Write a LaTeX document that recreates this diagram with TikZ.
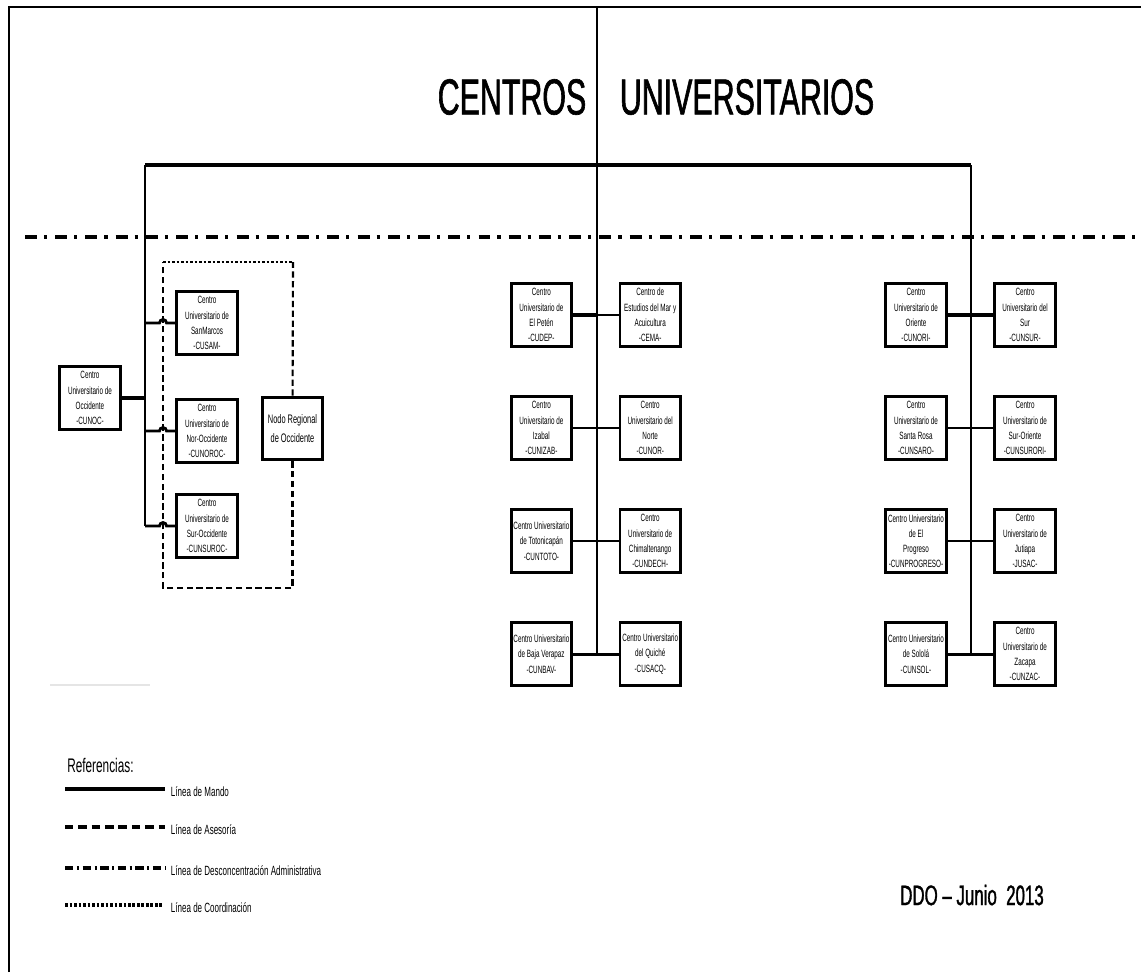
\documentclass[tikz,border=0pt]{standalone}
\usepackage{fontspec}
\setmainfont{Liberation Sans}[FakeStretch=0.6]
\newfontfamily\titlefont{Liberation Sans}[FakeStretch=0.6, FakeBold=1.2]
\usetikzlibrary{positioning}

\begin{document}
\begin{tikzpicture}[x=0.025cm, y=-0.025cm, node distance=1cm, thick]
        % Estilos de cajas y lineas
        \tikzstyle{centro} = [draw, rectangle, line width=2.1pt, minimum width=43pt, minimum height=44.5pt, inner sep=1pt, align=center, font=\fontsize{7.5}{10.8}\selectfont]
        \tikzstyle{nodo} = [centro, font=\fontsize{8.8}{13.5}\selectfont]
        \tikzstyle{mando} = [line width=2pt]
        \tikzstyle{mandoGrueso} = [line width=3.5pt]
        \tikzstyle{asesoria} = [line width=1.5pt, dash pattern=on 4.5pt off 2.5pt]
        \tikzstyle{desconcentracion} = [line width=2.6pt, dash pattern=on 8.5pt off 5pt on 2.2pt off 5.8pt]
        \tikzstyle{coordinacion} = [line width=2pt, dash pattern=on 2pt off 1.2pt]
        \tikzstyle{leyenda} = [anchor=west, inner sep=1pt, yshift=-2pt, font=\fontsize{9.5}{9.5}\selectfont]
        \useasboundingbox (0,0) rectangle (1141,972);
       % Marco y titulo
       \node at (9,972) [coordinate] (frameBL) {}; % Frame corner
       \node at (1141,7) [coordinate] (frameTR) {}; % Frame corner
       \node at (512,97) (tituloA) {\titlefont\fontsize{36}{36}\selectfont CENTROS}; % Title left
       \node at (747,97) (tituloB) {\titlefont\fontsize{36}{36}\selectfont UNIVERSITARIOS}; % Title right
       % Linea principal
       \node at (597,7) [coordinate] (topSpine) {}; % Top of middle spine
       \node at (145,165) [coordinate] (barLeft) {}; % Bar left end
       \node at (971,165) [coordinate] (barRight) {}; % Bar right end
       \node at (25,237) [coordinate] (deconLeft) {}; % Dash-dot line start
       \node at (1141,237) [coordinate] (deconRight) {}; % Dash-dot line end
       % Grupo occidente
       \node at (145,323) [coordinate] (leftRow1) {};
       \node [coordinate, on grid, below=2.7cm of leftRow1] (leftRow2) {};
       \node [coordinate, on grid, below=5.075cm of leftRow1] (leftRow3) {};
       \node at (145,398) [coordinate] (leftOcc) {};
       \node [centro, left=1.375cm of leftOcc, anchor=center] (cunoc) {Centro\\Universitario de\\Occidente\\-CUNOC-};
       \node [centro, right=1.55cm of leftRow1, anchor=center] (cusam) {Centro\\Universitario de\\SanMarcos\\-CUSAM-};
       \node [centro, right=1.55cm of leftRow2, anchor=center] (cunoroc) {Centro\\Universitario de\\Nor-Occidente\\-CUNOROC-};
       \node [centro, right=1.55cm of leftRow3, anchor=center] (cunsuroc) {Centro\\Universitario de\\Sur-Occidente\\-CUNSUROC-};
       \node [coordinate, on grid, right=0.45cm of leftRow1] (hop1) {}; % Crossing with dashed line
       \node [coordinate, on grid, right=0.45cm of leftRow2] (hop2) {};
       \node [coordinate, on grid, right=0.45cm of leftRow3] (hop3) {};
       \node at (292.5,428.5) [nodo] (nodoReg) {Nodo Regional\\de Occidente}; % Regional node
       \node at (163,262) [coordinate] (dashTL) {};
       \node at (293,262) [coordinate] (dashTR) {};
       \node at (163,588) [coordinate] (dashBL) {};
       \node at (293,588) [coordinate] (dashBR) {};
       % Grupo central
       \node at (597,315) [coordinate] (midRow1) {};
       \node [coordinate, on grid, below=2.825cm of midRow1] (midRow2) {};
       \node [coordinate, on grid, below=2.825cm of midRow2] (midRow3) {};
       \node [coordinate, on grid, below=2.825cm of midRow3] (midRow4) {};
       \node [centro, left=1.39cm of midRow1, anchor=center] (cudep) {Centro\\Universitario de\\El Petén\\-CUDEP-};
       \node [centro, right=1.33cm of midRow1, anchor=center] (cema) {Centro de\\Estudios del Mar y\\Acuicultura\\-CEMA-};
       \node [centro, left=1.39cm of midRow2, anchor=center] (cunizab) {Centro\\Universitario de\\Izabal\\-CUNIZAB-};
       \node [centro, right=1.33cm of midRow2, anchor=center] (cunor) {Centro\\Universitario del\\Norte\\-CUNOR-};
       \node [centro, left=1.39cm of midRow3, anchor=center] (cuntoto) {Centro Universitario\\de Totonicapán\\-CUNTOTO-};
       \node [centro, right=1.33cm of midRow3, anchor=center] (cundech) {Centro\\Universitario de\\Chimaltenango\\-CUNDECH-};
       \node [centro, left=1.39cm of midRow4, anchor=center] (cunbav) {Centro Universitario\\de Baja Verapaz\\-CUNBAV-};
       \node [centro, right=1.33cm of midRow4, anchor=center] (cusacq) {Centro Universitario\\del Quiché\\-CUSACQ-};
       % Grupo oriente
       \node at (971,315) [coordinate] (rightRow1) {};
       \node [coordinate, on grid, below=2.825cm of rightRow1] (rightRow2) {};
       \node [coordinate, on grid, below=2.825cm of rightRow2] (rightRow3) {};
       \node [coordinate, on grid, below=2.825cm of rightRow3] (rightRow4) {};
       \node [centro, left=1.375cm of rightRow1, anchor=center] (cunori) {Centro\\Universitario de\\Oriente\\-CUNORI-};
       \node [centro, right=1.35cm of rightRow1, anchor=center] (cunsur) {Centro\\Universitario del\\Sur\\-CUNSUR-};
       \node [centro, left=1.375cm of rightRow2, anchor=center] (cunsaro) {Centro\\Universitario de\\Santa Rosa\\-CUNSARO-};
       \node [centro, right=1.35cm of rightRow2, anchor=center] (cunsurori) {Centro\\Universitario de\\Sur-Oriente\\-CUNSURORI-};
       \node [centro, left=1.375cm of rightRow3, anchor=center] (cunprogreso) {Centro Universitario\\de El\\Progreso\\-CUNPROGRESO-};
       \node [centro, right=1.35cm of rightRow3, anchor=center] (jusac) {Centro\\Universitario de\\Jutiapa\\-JUSAC-};
       \node [centro, left=1.375cm of rightRow4, anchor=center] (cunsol) {Centro Universitario\\de Sololá\\-CUNSOL-};
       \node [centro, right=1.35cm of rightRow4, anchor=center] (cunzac) {Centro\\Universitario de\\Zacapa\\-CUNZAC-};
       % Referencias
       \node at (62,765) [anchor=west, font=\fontsize{14}{14}\selectfont] (referencias) {Referencias:};
       \node at (65,789) [coordinate] (legMandoA) {};
       \node [coordinate, on grid, right=2.5cm of legMandoA] (legMandoB) {};
       \node [leyenda, right=0.1cm of legMandoB] (txtMando) {Línea de Mando};
       \node at (65,827) [coordinate] (legAseA) {};
       \node [coordinate, on grid, right=2.5cm of legAseA] (legAseB) {};
       \node [leyenda, right=0.1cm of legAseB] (txtAse) {Línea de Asesoría};
       \node at (65,868) [coordinate] (legDesA) {};
       \node [coordinate, on grid, right=2.5cm of legDesA] (legDesB) {};
       \node [leyenda, right=0.1cm of legDesB] (txtDes) {Línea de Desconcentración Administrativa};
       \node at (65,905) [coordinate] (legCoorA) {};
       \node [coordinate, on grid, right=2.45cm of legCoorA] (legCoorB) {};
       \node [leyenda, right=0.15cm of legCoorB] (txtCoor) {Línea de Coordinación};
       \node at (972,895) (fecha) {\titlefont\fontsize{20}{20}\selectfont DDO – Junio\ \ 2013}; % Date
       \node at (50,685) [coordinate] (faintA) {};
       \node at (150,685) [coordinate] (faintB) {};
       % Connections
       \draw[line width=1.5pt] (frameBL) |- (frameTR); % Frame
       \draw[line width=1.4pt] (topSpine) -- (midRow4); % Middle spine
       \draw[mandoGrueso] (barLeft) -- (barRight); % Main bar
       \draw[mando] (barLeft) -- (leftRow3); % Left spine
       \draw[mando] (barRight) -- (rightRow4); % Right spine
       \draw[mandoGrueso] (cunoc) -- (leftOcc);
       \draw[mando] (leftRow1) -- ([xshift=-2.5pt]hop1) arc[start angle=180, end angle=0, radius=2.5pt] -- (cusam);
       \draw[mando] (leftRow2) -- ([xshift=-2.5pt]hop2) arc[start angle=180, end angle=0, radius=2.5pt] -- (cunoroc);
       \draw[mando] (leftRow3) -- ([xshift=-2.5pt]hop3) arc[start angle=180, end angle=0, radius=2.5pt] -- (cunsuroc);
       \draw[asesoria] (nodoReg) |- (dashBL) -- (dashTL);
       \draw[asesoria] (nodoReg) -- (dashTR);
       \draw[coordinacion] (dashTL) -- (dashTR);
       \draw[mandoGrueso] (cudep) -- (midRow1);
       \draw[mando] (midRow1) -- (cema);
       \draw[mando] (cunizab) -- (cunor);
       \draw[mando] (cuntoto) -- (cundech);
       \draw[mando] (cunbav) -- (cusacq);
       \draw[mandoGrueso] (cunori) -- (cunsur);
       \draw[mando] (cunsaro) -- (cunsurori);
       \draw[mando] (cunprogreso) -- (jusac);
       \draw[mando] (cunsol) -- (cunzac);
       \draw[desconcentracion] (deconLeft) -- (deconRight); % Dash-dot line
       \draw[mandoGrueso] (legMandoA) -- (legMandoB);
       \draw[asesoria, line width=2.6pt, dash pattern=on 6pt off 3.5pt] (legAseA) -- (legAseB);
       \draw[desconcentracion, line width=2.6pt, dash pattern=on 6pt off 2.5pt on 1.5pt off 2.5pt] (legDesA) -- (legDesB);
       \draw[coordinacion, line width=2.4pt] (legCoorA) -- (legCoorB);
       \draw[black!10, line width=1pt] (faintA) -- (faintB);

      \end{tikzpicture}
\end{document}
